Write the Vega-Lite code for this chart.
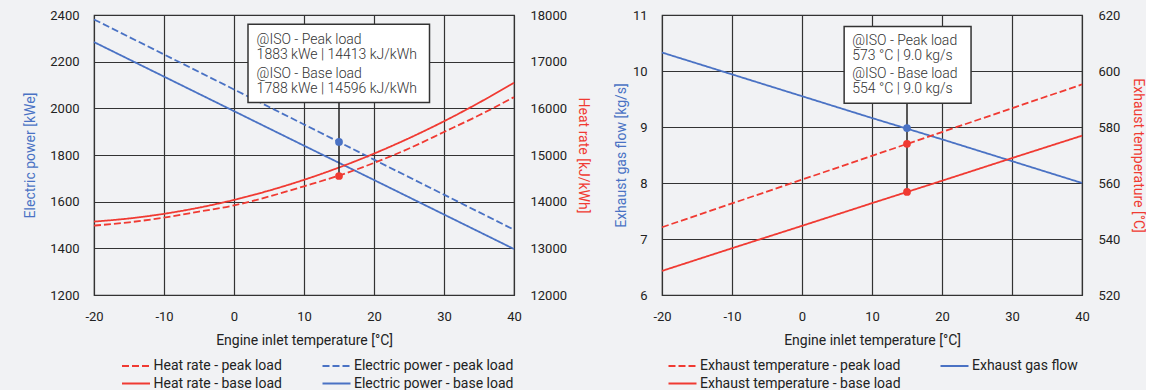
{
  "$schema": "https://vega.github.io/schema/vega-lite/v6.json",
  "background": "#f1f2f4",
  "padding": {"left": 23, "top": 8, "right": 0, "bottom": 0},
  "config": {
    "font": "Roboto",
    "view": {"stroke": "#333333", "strokeWidth": 1.2},
    "axis": {"gridColor": "#333333", "gridOpacity": 1, "gridWidth": 1.2, "domain": false, "ticks": false, "labelFont": "Roboto", "labelFontSize": 13, "labelColor": "#222222", "titleFont": "Roboto", "titleFontSize": 14, "titleFontWeight": "normal", "labelFlush": false},
    "legend": {"labelFont": "Roboto", "labelFontSize": 14, "labelColor": "#222222", "padding": 0, "labelLimit": 400}
  },
  "resolve": {"scale": {"color": "independent", "strokeDash": "independent"}, "legend": {"color": "independent", "strokeDash": "independent"}},
  "datasets": {
    "power": [
      {"series": "Electric power - peak load", "t": -20, "v": 2381},
      {"series": "Electric power - peak load", "t": -10, "v": 2231},
      {"series": "Electric power - peak load", "t": 0, "v": 2081},
      {"series": "Electric power - peak load", "t": 10, "v": 1931},
      {"series": "Electric power - peak load", "t": 20, "v": 1780},
      {"series": "Electric power - peak load", "t": 30, "v": 1630},
      {"series": "Electric power - peak load", "t": 40, "v": 1480},
      {"series": "Electric power - base load", "t": -20, "v": 2284},
      {"series": "Electric power - base load", "t": -10, "v": 2136},
      {"series": "Electric power - base load", "t": 0, "v": 1988},
      {"series": "Electric power - base load", "t": 10, "v": 1840},
      {"series": "Electric power - base load", "t": 20, "v": 1693},
      {"series": "Electric power - base load", "t": 30, "v": 1545},
      {"series": "Electric power - base load", "t": 40, "v": 1397}
    ],
    "heat": [
      {"series": "Heat rate - peak load", "t": -20, "v": 13487},
      {"series": "Heat rate - peak load", "t": -15, "v": 13558},
      {"series": "Heat rate - peak load", "t": -10, "v": 13658},
      {"series": "Heat rate - peak load", "t": -5, "v": 13787},
      {"series": "Heat rate - peak load", "t": 0, "v": 13920},
      {"series": "Heat rate - peak load", "t": 5, "v": 14110},
      {"series": "Heat rate - peak load", "t": 10, "v": 14330},
      {"series": "Heat rate - peak load", "t": 15, "v": 14560},
      {"series": "Heat rate - peak load", "t": 20, "v": 14830},
      {"series": "Heat rate - peak load", "t": 25, "v": 15140},
      {"series": "Heat rate - peak load", "t": 30, "v": 15493},
      {"series": "Heat rate - peak load", "t": 35, "v": 15851},
      {"series": "Heat rate - peak load", "t": 40, "v": 16240},
      {"series": "Heat rate - base load", "t": -20, "v": 13573},
      {"series": "Heat rate - base load", "t": -15, "v": 13640},
      {"series": "Heat rate - base load", "t": -10, "v": 13740},
      {"series": "Heat rate - base load", "t": -5, "v": 13872},
      {"series": "Heat rate - base load", "t": 0, "v": 14038},
      {"series": "Heat rate - base load", "t": 5, "v": 14237},
      {"series": "Heat rate - base load", "t": 10, "v": 14468},
      {"series": "Heat rate - base load", "t": 15, "v": 14732},
      {"series": "Heat rate - base load", "t": 20, "v": 15030},
      {"series": "Heat rate - base load", "t": 25, "v": 15360},
      {"series": "Heat rate - base load", "t": 30, "v": 15723},
      {"series": "Heat rate - base load", "t": 35, "v": 16120},
      {"series": "Heat rate - base load", "t": 40, "v": 16549}
    ],
    "gas": [
      {"series": "Exhaust gas flow", "t": -20, "v": 10.33},
      {"series": "Exhaust gas flow", "t": -10, "v": 9.94},
      {"series": "Exhaust gas flow", "t": 0, "v": 9.55},
      {"series": "Exhaust gas flow", "t": 10, "v": 9.16},
      {"series": "Exhaust gas flow", "t": 20, "v": 8.78},
      {"series": "Exhaust gas flow", "t": 30, "v": 8.39},
      {"series": "Exhaust gas flow", "t": 40, "v": 8.0}
    ],
    "exh": [
      {"series": "Exhaust temperature - peak load", "t": -20, "v": 544.2},
      {"series": "Exhaust temperature - peak load", "t": -10, "v": 552.7},
      {"series": "Exhaust temperature - peak load", "t": 0, "v": 561.2},
      {"series": "Exhaust temperature - peak load", "t": 10, "v": 569.7},
      {"series": "Exhaust temperature - peak load", "t": 20, "v": 578.2},
      {"series": "Exhaust temperature - peak load", "t": 30, "v": 586.7},
      {"series": "Exhaust temperature - peak load", "t": 40, "v": 595.2},
      {"series": "Exhaust temperature - base load", "t": -20, "v": 528.6},
      {"series": "Exhaust temperature - base load", "t": -10, "v": 536.7},
      {"series": "Exhaust temperature - base load", "t": 0, "v": 544.7},
      {"series": "Exhaust temperature - base load", "t": 10, "v": 552.8},
      {"series": "Exhaust temperature - base load", "t": 20, "v": 560.8},
      {"series": "Exhaust temperature - base load", "t": 30, "v": 568.9},
      {"series": "Exhaust temperature - base load", "t": 40, "v": 576.9}
    ]
  },
  "spacing": 148,
  "bounds": "flush",
  "hconcat": [
    {
      "width": 420,
      "height": 280,
      "resolve": {"scale": {"y": "independent"}},
      "layer": [
        {
          "data": {"name": "power"},
          "mark": {"type": "line", "strokeWidth": 1.8},
          "encoding": {
            "x": {"field": "t", "type": "quantitative", "scale": {"domain": [-20, 40]}, "axis": {"title": "Engine inlet temperature [°C]", "titleColor": "#222222", "values": [-20, -10, 0, 10, 20, 30, 40], "labelExpr": "'' + datum.value", "grid": true, "labelPadding": 15, "titlePadding": 10}},
            "y": {"field": "v", "type": "quantitative", "scale": {"domain": [1200, 2400]}, "axis": {"orient": "left", "title": "Electric power [kWe]", "titleColor": "#4a72c4", "values": [1200, 1400, 1600, 1800, 2000, 2200, 2400], "format": "d", "grid": true, "labelPadding": 15, "titlePadding": 12}},
            "color": {"field": "series", "type": "nominal", "scale": {"domain": ["Heat rate - peak load", "Heat rate - base load", "Electric power - peak load", "Electric power - base load"], "range": ["#f03a32", "#f03a32", "#4a72c4", "#4a72c4"]}, "legend": {"title": null, "orient": "none", "legendX": 34, "legendY": 343, "columns": 2, "symbolType": "M-2,0H2", "symbolSize": 196, "symbolStrokeWidth": 2, "labelOffset": 9.5, "columnPadding": 36.5, "rowPadding": 2.5}},
            "strokeDash": {"field": "series", "type": "nominal", "scale": {"domain": ["Heat rate - peak load", "Heat rate - base load", "Electric power - peak load", "Electric power - base load"], "range": [[7, 3], [1, 0], [7, 3], [1, 0]]}, "legend": {"title": null, "orient": "none", "legendX": 34, "legendY": 343, "columns": 2, "symbolType": "M-2,0H2", "symbolSize": 196, "symbolStrokeWidth": 2, "labelOffset": 9.5, "columnPadding": 36.5, "rowPadding": 2.5}}
          }
        },
        {
          "data": {"name": "heat"},
          "mark": {"type": "line", "strokeWidth": 1.8, "interpolate": "monotone"},
          "encoding": {
            "x": {"field": "t", "type": "quantitative", "scale": {"domain": [-20, 40]}},
            "y": {"field": "v", "type": "quantitative", "scale": {"domain": [12000, 18000]}, "axis": {"orient": "right", "title": "Heat rate [kJ/kWh]", "titleColor": "#f03a32", "values": [12000, 13000, 14000, 15000, 16000, 17000, 18000], "format": "d", "grid": false, "labelPadding": 16, "titlePadding": 9}},
            "color": {"field": "series", "type": "nominal"},
            "strokeDash": {"field": "series", "type": "nominal"}
          }
        },
        {
          "layer": [
            {
              "data": {"values": [{"t": 15, "v": 1709, "v2": 2025}]},
              "mark": {"type": "rule", "color": "#222222", "strokeWidth": 1.5},
              "encoding": {
                "x": {"field": "t", "type": "quantitative"},
                "y": {"field": "v", "type": "quantitative", "scale": {"domain": [1200, 2400]}, "axis": null},
                "y2": {"field": "v2"}
              }
            },
            {
              "data": {"values": [{"t": 2.0, "t2": 27.93, "v": 2025, "v2": 2360}]},
              "mark": {"type": "rect", "fill": "#ffffff", "stroke": "#333333", "strokeWidth": 1.5},
              "encoding": {
                "x": {"field": "t", "type": "quantitative"},
                "x2": {"field": "t2"},
                "y": {"field": "v", "type": "quantitative", "scale": {"domain": [1200, 2400]}, "axis": null},
                "y2": {"field": "v2"}
              }
            },
            {
              "data": {"values": [
                {"t": 3.23, "v": 2291, "label": "@ISO - Peak load"},
                {"t": 3.23, "v": 2227, "label": "1883 kWe | 14413 kJ/kWh"},
                {"t": 3.23, "v": 2148.5, "label": "@ISO - Base load"},
                {"t": 3.23, "v": 2084, "label": "1788 kWe | 14596 kJ/kWh"}
              ]},
              "mark": {"type": "text", "align": "left", "baseline": "middle", "fontSize": 14, "fontWeight": 300, "color": "#333333", "font": "Roboto"},
              "encoding": {
                "x": {"field": "t", "type": "quantitative"},
                "y": {"field": "v", "type": "quantitative", "scale": {"domain": [1200, 2400]}, "axis": null},
                "text": {"field": "label"}
              }
            },
            {
              "data": {"values": [{"t": 15, "v": 1856}]},
              "mark": {"type": "circle", "color": "#4a72c4", "opacity": 1, "size": 60},
              "encoding": {
                "x": {"field": "t", "type": "quantitative"},
                "y": {"field": "v", "type": "quantitative", "scale": {"domain": [1200, 2400]}, "axis": null}
              }
            }
          ]
        },
        {
          "data": {"values": [{"t": 15, "v": 14550}]},
          "mark": {"type": "circle", "color": "#f03a32", "opacity": 1, "size": 60},
          "encoding": {
            "x": {"field": "t", "type": "quantitative"},
            "y": {"field": "v", "type": "quantitative", "scale": {"domain": [12000, 18000]}, "axis": null}
          }
        }
      ]
    },
    {
      "width": 420,
      "height": 280,
      "resolve": {"scale": {"y": "independent"}},
      "layer": [
        {
          "data": {"name": "gas"},
          "mark": {"type": "line", "strokeWidth": 1.8},
          "encoding": {
            "x": {"field": "t", "type": "quantitative", "scale": {"domain": [-20, 40]}, "axis": {"title": "Engine inlet temperature [°C]", "titleColor": "#222222", "values": [-20, -10, 0, 10, 20, 30, 40], "labelExpr": "'' + datum.value", "grid": true, "labelPadding": 15, "titlePadding": 10}},
            "y": {"field": "v", "type": "quantitative", "scale": {"domain": [6, 11]}, "axis": {"orient": "left", "title": "Exhaust gas flow [kg/s]", "titleColor": "#4a72c4", "values": [6, 7, 8, 9, 10, 11], "format": "d", "grid": true, "labelPadding": 15, "titlePadding": 4}},
            "color": {"field": "series", "type": "nominal", "scale": {"domain": ["Exhaust temperature - peak load", "Exhaust temperature - base load", "Exhaust gas flow"], "range": ["#f03a32", "#f03a32", "#4a72c4"]}, "legend": {"title": null, "orient": "none", "legendX": 12.5, "legendY": 343, "columns": 2, "symbolType": "M-2,0H2", "symbolSize": 196, "symbolStrokeWidth": 2, "labelOffset": 9.5, "columnPadding": 35, "rowPadding": 2.5}},
            "strokeDash": {"field": "series", "type": "nominal", "scale": {"domain": ["Exhaust temperature - peak load", "Exhaust temperature - base load", "Exhaust gas flow"], "range": [[7, 3], [1, 0], [1, 0]]}, "legend": {"title": null, "orient": "none", "legendX": 12.5, "legendY": 343, "columns": 2, "symbolType": "M-2,0H2", "symbolSize": 196, "symbolStrokeWidth": 2, "labelOffset": 9.5, "columnPadding": 35, "rowPadding": 2.5}}
          }
        },
        {
          "data": {"name": "exh"},
          "mark": {"type": "line", "strokeWidth": 1.8},
          "encoding": {
            "x": {"field": "t", "type": "quantitative", "scale": {"domain": [-20, 40]}},
            "y": {"field": "v", "type": "quantitative", "scale": {"domain": [520, 620]}, "axis": {"orient": "right", "title": "Exhaust temperature [°C]", "titleColor": "#f03a32", "values": [520, 540, 560, 580, 600, 620], "format": "d", "grid": false, "labelPadding": 16, "titlePadding": 11}},
            "color": {"field": "series", "type": "nominal"},
            "strokeDash": {"field": "series", "type": "nominal"}
          }
        },
        {
          "layer": [
            {
              "data": {"values": [{"t": 15, "v": 7.828, "v2": 9.423}]},
              "mark": {"type": "rule", "color": "#222222", "strokeWidth": 1.5},
              "encoding": {
                "x": {"field": "t", "type": "quantitative"},
                "y": {"field": "v", "type": "quantitative", "scale": {"domain": [6, 11]}, "axis": null},
                "y2": {"field": "v2"}
              }
            },
            {
              "data": {"values": [{"t": 6.02, "t2": 24.15, "v": 9.423, "v2": 10.796}]},
              "mark": {"type": "rect", "fill": "#ffffff", "stroke": "#333333", "strokeWidth": 1.5},
              "encoding": {
                "x": {"field": "t", "type": "quantitative"},
                "x2": {"field": "t2"},
                "y": {"field": "v", "type": "quantitative", "scale": {"domain": [6, 11]}, "axis": null},
                "y2": {"field": "v2"}
              }
            },
            {
              "data": {"values": [
                {"t": 7.17, "v": 10.527, "label": "@ISO - Peak load"},
                {"t": 7.17, "v": 10.271, "label": "573 °C | 9.0 kg/s"},
                {"t": 7.17, "v": 9.943, "label": "@ISO - Base load"},
                {"t": 7.17, "v": 9.674, "label": "554 °C | 9.0 kg/s"}
              ]},
              "mark": {"type": "text", "align": "left", "baseline": "middle", "fontSize": 14, "fontWeight": 300, "color": "#333333", "font": "Roboto"},
              "encoding": {
                "x": {"field": "t", "type": "quantitative"},
                "y": {"field": "v", "type": "quantitative", "scale": {"domain": [6, 11]}, "axis": null},
                "text": {"field": "label"}
              }
            },
            {
              "data": {"values": [{"t": 15, "v": 8.98}]},
              "mark": {"type": "circle", "color": "#4a72c4", "opacity": 1, "size": 60},
              "encoding": {
                "x": {"field": "t", "type": "quantitative"},
                "y": {"field": "v", "type": "quantitative", "scale": {"domain": [6, 11]}, "axis": null}
              }
            }
          ]
        },
        {
          "data": {"values": [{"t": 15, "v": 574.0}, {"t": 15, "v": 556.8}]},
          "mark": {"type": "circle", "color": "#f03a32", "opacity": 1, "size": 60},
          "encoding": {
            "x": {"field": "t", "type": "quantitative"},
            "y": {"field": "v", "type": "quantitative", "scale": {"domain": [520, 620]}, "axis": null}
          }
        }
      ]
    }
  ]
}
